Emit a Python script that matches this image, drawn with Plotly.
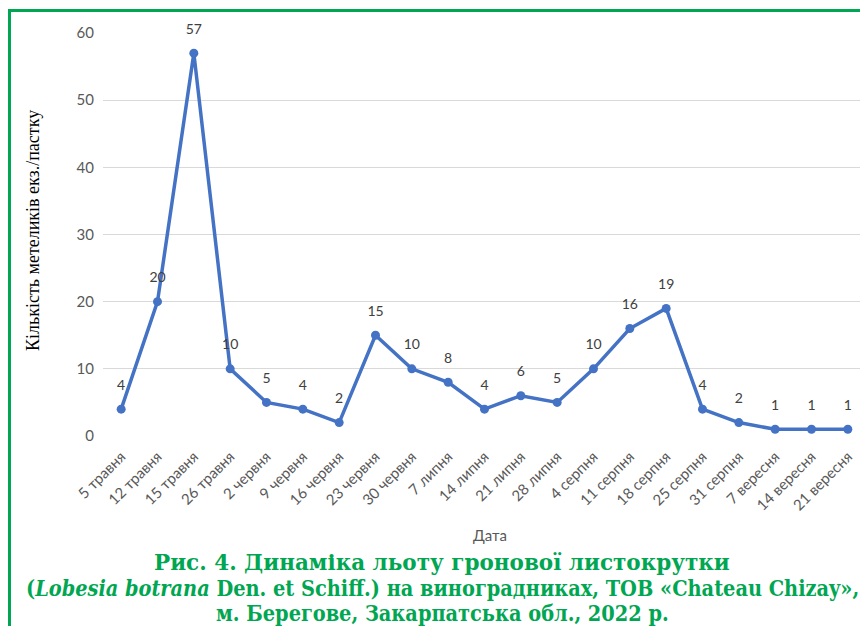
import plotly.graph_objects as go

dates = ["5 травня", "12 травня", "15 травня", "26 травня", "2 червня", "9 червня",
         "16 червня", "23 червня", "30 червня", "7 липня", "14 липня", "21 липня",
         "28 липня", "4 серпня", "11 серпня", "18 серпня", "25 серпня", "31 серпня",
         "7 вересня", "14 вересня", "21 вересня"]
counts = [4, 20, 57, 10, 5, 4, 2, 15, 10, 8, 4, 6, 5, 10, 16, 19, 4, 2, 1, 1, 1]
y_ticks = [0, 10, 20, 30, 40, 50, 60]

OFF = 8  # browser body margin; figure sized so page coords = fig coords + OFF
W, H = 868 - OFF, 626 - OFF
# plot area in page pixels: x 103..866, y 33..436
L = 103 - OFF
T = 33 - OFF
R = W - (866 - OFF)
B = H - (436 - OFF)
pw = W - L - R
ph = H - T - B

def px_x(px):
    return (px - OFF - L) / pw

def px_y(py):
    return (436 - py) / ph

GREEN = "#00A651"
GRAY = "#595959"
SANS = "Lato"
CAP_FONT = "DejaVu Serif"
CAP_FONT_C = "DejaVu Serif Condensed, DejaVu Serif"

fig = go.Figure()
fig.add_trace(go.Scatter(
    x=dates, y=counts, mode="lines+markers",
    line=dict(color="#4472C4", width=3.5),
    marker=dict(color="#4472C4", size=9),
    hoverinfo="x+y", showlegend=False,
))
# data labels, offset above the points by an invisible marker
fig.add_trace(go.Scatter(
    x=dates, y=counts, mode="markers+text",
    marker=dict(size=24, opacity=0),
    text=[str(v) for v in counts], textposition="top center",
    textfont=dict(family=SANS, size=14, color="#404040"),
    cliponaxis=False, hoverinfo="skip", showlegend=False,
))

fig.update_layout(
    width=W, height=H,
    margin=dict(l=L, r=R, t=T, b=B, autoexpand=False),
    paper_bgcolor="white", plot_bgcolor="white",
    xaxis=dict(type="category", range=[-0.5, len(dates) - 0.5], showgrid=False,
               showline=False, ticks="", automargin=False, ticklabelstandoff=8,
               tickangle=-45, tickfont=dict(family=SANS, size=15, color=GRAY)),
    yaxis=dict(range=[0, 60], tickvals=y_ticks, showgrid=True, gridcolor="#D9D9D9",
               gridwidth=1, zeroline=False, showline=False, ticks="", automargin=False,
               ticklabelstandoff=8,
               tickfont=dict(family=SANS, size=15, color=GRAY)),
    shapes=[
        dict(type="line", xref="paper", yref="paper", x0=px_x(8.5), x1=px_x(870),
             y0=px_y(10.5), y1=px_y(10.5), line=dict(color=GREEN, width=3)),
        dict(type="line", xref="paper", yref="paper", x0=px_x(9.5), x1=px_x(9.5),
             y0=px_y(9), y1=px_y(630), line=dict(color=GREEN, width=3)),
    ],
    annotations=[
        dict(text="Кількість метеликів екз./пастку", xref="paper", yref="paper",
             x=px_x(33), y=px_y(231), xanchor="center", yanchor="middle",
             textangle=-90, showarrow=False,
             font=dict(family="Liberation Serif", size=18, color="black")),
        dict(text="Дата", xref="paper", yref="paper", x=px_x(490), y=px_y(535),
             xanchor="center", yanchor="middle", showarrow=False,
             font=dict(family=SANS, size=15, color=GRAY)),
        dict(text="<b>Рис. 4. Динаміка льоту гронової листокрутки</b>", xref="paper", yref="paper",
             x=px_x(442), y=px_y(562), xanchor="center", yanchor="middle", showarrow=False,
             font=dict(family=CAP_FONT, size=21.5, color=GREEN)),
        dict(text="<b>(<i>Lobesia botrana</i> Den. et Schiff.) на виноградниках, ТОВ «Chateau Chizay»,</b>",
             xref="paper", yref="paper", x=px_x(442), y=px_y(588),
             xanchor="center", yanchor="middle", showarrow=False,
             font=dict(family=CAP_FONT_C, size=21.5, color=GREEN)),
        dict(text="<b>м. Берегове, Закарпатська обл., 2022 р.</b>", xref="paper", yref="paper",
             x=px_x(442), y=px_y(613), xanchor="center", yanchor="middle", showarrow=False,
             font=dict(family=CAP_FONT_C, size=21.5, color=GREEN)),
    ],
)

fig.write_html("out.html")
